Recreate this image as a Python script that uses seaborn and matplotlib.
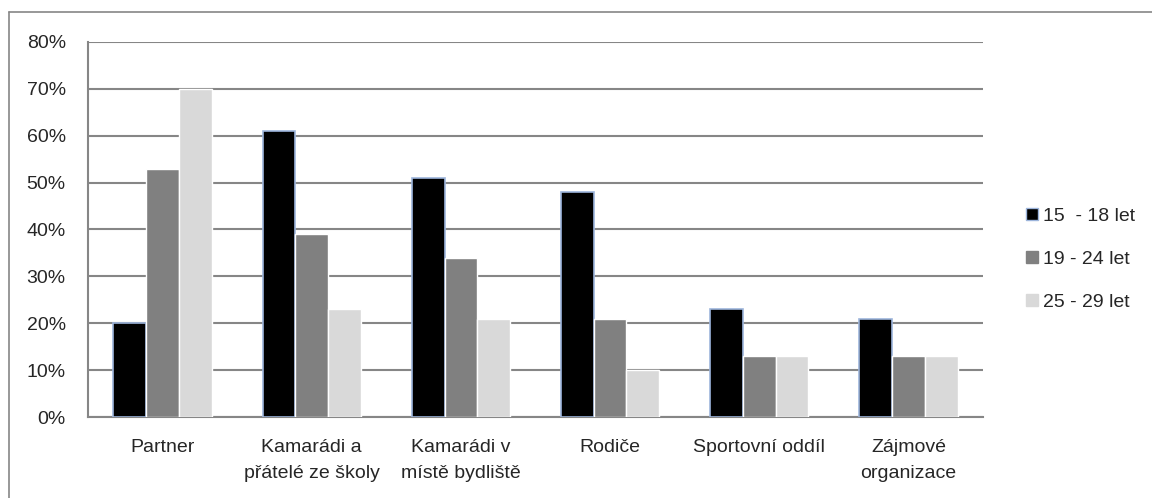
import matplotlib
matplotlib.use('Agg')
import matplotlib.pyplot as plt
import seaborn as sns
import pandas as pd
from matplotlib.lines import Line2D
from matplotlib.ticker import PercentFormatter

categories = ['Partner', 'Kamarádi a\npřátelé ze školy', 'Kamarádi v\nmístě bydliště',
              'Rodiče', 'Sportovní oddíl', 'Zájmové\norganizace']
groups = ['15  - 18 let', '19 - 24 let', '25 - 29 let']
vals_15_18 = [20, 61, 51, 48, 23, 21]
vals_19_24 = [53, 39, 34, 21, 13, 13]
vals_25_29 = [70, 23, 21, 10, 13, 13]
colors = ['#000000', '#808080', '#d9d9d9']

rows = []
for g, vals in zip(groups, [vals_15_18, vals_19_24, vals_25_29]):
    for c, v in zip(categories, vals):
        rows.append({'cat': c, 'group': g, 'val': v})
df = pd.DataFrame(rows)

sns.set_style('white')
plt.rcParams['font.family'] = ['Liberation Sans', 'DejaVu Sans']

fig = plt.figure(figsize=(11.52, 4.98), dpi=100)
ax = fig.add_axes([88 / 1152, 1 - 417 / 498, (983 - 88) / 1152, (417 - 42) / 498])

sns.barplot(data=df, x='cat', y='val', hue='group', palette=colors, width=0.66,
            saturation=1, legend=False, ax=ax, zorder=3)

# black bars get the light blue outline
for bar in ax.containers[0]:
    bar.set_edgecolor('#9db5dc')
    bar.set_linewidth(1.2)

ax.set_xlim(-0.5, len(categories) - 0.5)
ax.set_ylim(0, 80)
ax.set_yticks(range(0, 81, 10))
ax.yaxis.set_major_formatter(PercentFormatter(decimals=0))
ax.grid(axis='y', color='#868686', linewidth=1.5, zorder=0)
ax.set_xlabel('')
ax.set_ylabel('')

for s in ['top', 'right']:
    ax.spines[s].set_visible(False)
for s in ['left', 'bottom']:
    ax.spines[s].set_color('#868686')
    ax.spines[s].set_linewidth(1.5)

ax.set_xticks([i - 0.5 for i in range(len(categories) + 1)], minor=True)
ax.tick_params(axis='x', which='minor', length=8, width=1.5, color='#868686', direction='out')
ax.tick_params(axis='x', which='major', length=0, labelsize=14, pad=16)
ax.tick_params(axis='y', length=8, width=1.5, color='#868686', direction='out', labelsize=14, pad=8)
for lbl in ax.get_xticklabels():
    lbl.set_linespacing(1.7)

handles = []
for g, col in zip(groups, colors):
    ec = '#9db5dc' if col == '#000000' else col
    handles.append(Line2D([0], [0], marker='s', linestyle='none', markersize=9,
                          markerfacecolor=col, markeredgecolor=ec, markeredgewidth=1))
fig.legend(handles, groups, loc='center left', bbox_to_anchor=(1005 / 1152, 1 - 259 / 498),
           frameon=False, fontsize=14, handletextpad=0.05, labelspacing=1.3, handlelength=1)

# outer frame (left and top edges visible)
fig.add_artist(Line2D([9 / 1152, 9 / 1152], [0, 1 - 12 / 498], color='#868686', lw=1.2,
                      transform=fig.transFigure))
fig.add_artist(Line2D([9 / 1152, 1], [1 - 12 / 498, 1 - 12 / 498], color='#868686', lw=1.2,
                      transform=fig.transFigure))

fig.savefig('out.png', dpi=100)
